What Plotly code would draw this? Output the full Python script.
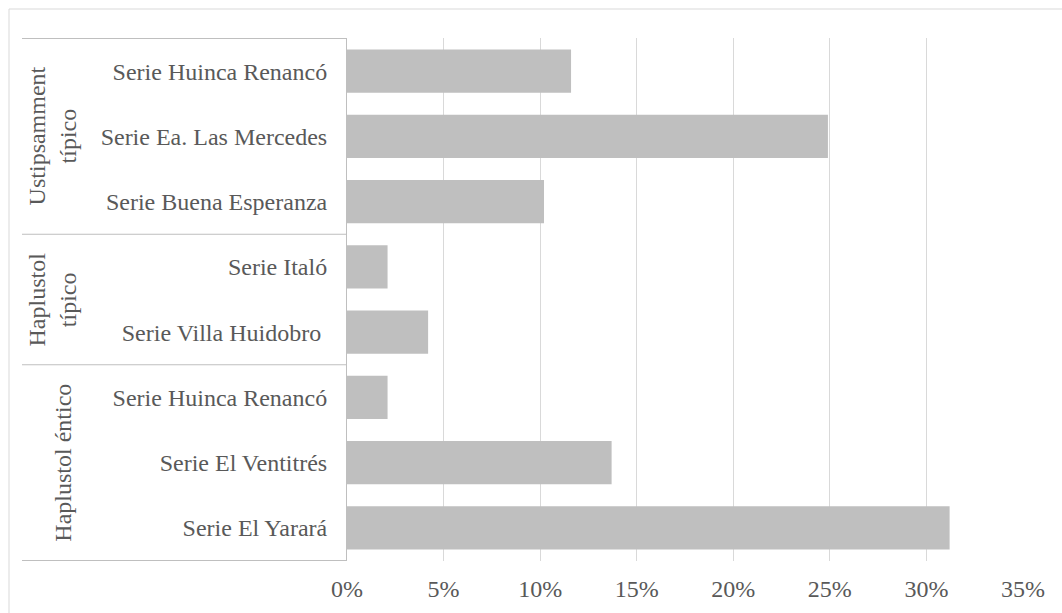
import plotly.graph_objects as go

# Data (top to bottom as shown)
groups = ["Ustipsamment<br>típico", "Haplustol<br>típico", "Haplustol éntico"]
group_sizes = [3, 2, 3]
series_labels = [
    "Serie Huinca Renancó",
    "Serie Ea. Las Mercedes",
    "Serie Buena Esperanza",
    "Serie Italó",
    "Serie Villa Huidobro\u00a0",
    "Serie Huinca Renancó",
    "Serie El Ventitrés",
    "Serie El Yarará",
]
values = [0.116, 0.249, 0.102, 0.021, 0.042, 0.021, 0.137, 0.312]
x_ticks = [0, 0.05, 0.10, 0.15, 0.20, 0.25, 0.30, 0.35]
x_tick_labels = ["0%", "5%", "10%", "15%", "20%", "25%", "30%", "35%"]

W, H = 1062, 613
ML, MR, MT, MB = 347, 39, 38, 52
PW = W - ML - MR
PH = H - MT - MB

def px_to_paper_x(px):
    return (px - ML) / PW

def px_to_paper_y(py):
    return (H - MB - py) / PH

cat_ids = [f"{i}" for i in range(len(series_labels))]

FONT = "Liberation Serif, Times New Roman, serif"
TXT = "#595959"
LINE = "#BFBFBF"

fig = go.Figure()
fig.add_trace(go.Bar(
    x=values, y=cat_ids, orientation="h",
    marker=dict(color="#BFBFBF", line=dict(width=0)),
    hoverinfo="skip",
))

fig.update_layout(
    width=W, height=H,
    margin=dict(l=ML, r=MR, t=MT, b=MB, pad=0),
    paper_bgcolor="white", plot_bgcolor="white",
    showlegend=False,
    bargap=0.335,
    font=dict(family=FONT, size=24, color=TXT),
    xaxis=dict(
        range=[0, 0.35], tickvals=x_ticks, ticktext=x_tick_labels,
        showgrid=True, gridcolor="#D9D9D9", gridwidth=1,
        zeroline=False, showline=False, ticks="",
        tickfont=dict(family=FONT, size=24, color=TXT),
        ticklabelstandoff=11,
    ),
    yaxis=dict(
        type="category", categoryorder="array", categoryarray=cat_ids,
        autorange="reversed",
        tickvals=cat_ids, ticktext=series_labels,
        showgrid=False, zeroline=False, ticks="",
        showline=True, linecolor=LINE, linewidth=1,
        tickfont=dict(family=FONT, size=24, color=TXT),
        ticklabelstandoff=14,
    ),
)

# Group separators and group labels
shapes = []
annotations = []
start = 0
bounds = [-0.5]
for g, n in zip(groups, group_sizes):
    end = start + n
    bounds.append(end - 0.5)
    center = (start + end - 1) / 2
    two_line = "<br>" in g
    annotations.append(dict(
        text=g, xref="paper", yref="y",
        x=px_to_paper_x(52 if two_line else 63), y=center,
        textangle=-90, showarrow=False,
        xanchor="center", yanchor="middle", align="center",
        font=dict(family=FONT, size=24, color=TXT),
    ))
    start = end

for b in bounds:
    shapes.append(dict(
        type="line", xref="paper", yref="y",
        x0=px_to_paper_x(22), x1=0, y0=b, y1=b,
        line=dict(color=LINE, width=1),
    ))

# Chart area border
shapes.append(dict(
    type="rect", xref="paper", yref="paper",
    x0=px_to_paper_x(9), x1=px_to_paper_x(1075),
    y0=px_to_paper_y(625), y1=px_to_paper_y(9),
    line=dict(color="#D9D9D9", width=1), fillcolor="rgba(0,0,0,0)",
    layer="below",
))

fig.update_layout(shapes=shapes, annotations=annotations)

fig.write_html(
    "out.html",
    config={"displayModeBar": False, "staticPlot": True},
    post_script="document.body.style.margin='0';document.body.style.overflow='hidden';",
)
